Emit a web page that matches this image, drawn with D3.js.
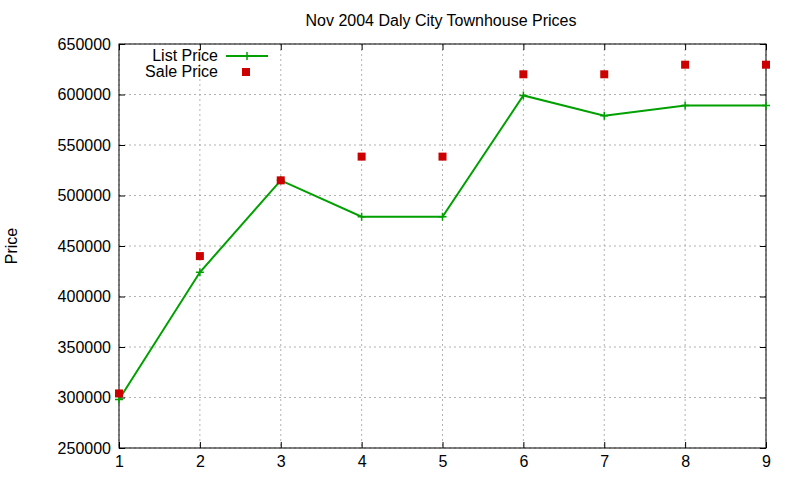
<!DOCTYPE html>
<html><head><meta charset="utf-8">
<script src="https://cdn.jsdelivr.net/npm/d3@7"></script>
<style>body{margin:0;background:#fff}svg{font-family:"Liberation Sans",Arial,sans-serif}</style>
</head><body><svg width="800" height="480"></svg>
<script>
const xs=[1,2,3,4,5,6,7,8,9];
const listPrice=[298000,424000,515000,479000,479000,599000,579000,589000,589000];
const salePrice=[304000,440000,515000,538500,538500,620000,620000,629500,629500];
const yTicks=[250000,300000,350000,400000,450000,500000,550000,600000,650000];
const svg=d3.select("svg");
const L=119,R=766,T=44,B=448;
const x=d3.scaleLinear().domain([1,9]).range([L,R]);
const y=d3.scaleLinear().domain([250000,650000]).range([B,T]);
const g=svg.append("g");
g.selectAll(".gx").data(xs).join("line").attr("x1",d=>x(d)).attr("x2",d=>x(d)).attr("y1",T).attr("y2",B)
 .attr("stroke","#a0a0a0").attr("stroke-dasharray","2,3").attr("stroke-width",0.8);
g.selectAll(".gy").data(yTicks).join("line").attr("x1",L).attr("x2",R).attr("y1",d=>y(d)).attr("y2",d=>y(d))
 .attr("stroke","#a0a0a0").attr("stroke-dasharray","2,3").attr("stroke-width",0.8);
svg.append("g").attr("transform",`translate(0,${B})`).call(d3.axisBottom(x).tickValues(xs).tickFormat(d3.format("d")).tickSizeInner(-6).tickSizeOuter(0).tickPadding(8));
svg.append("g").attr("transform",`translate(${L},0)`).call(d3.axisLeft(y).tickValues(yTicks).tickFormat(d3.format("d")).tickSizeInner(-6).tickSizeOuter(0).tickPadding(8));
svg.append("g").attr("transform",`translate(0,${T})`).call(d3.axisTop(x).tickValues(xs).tickFormat("").tickSizeInner(-6).tickSizeOuter(0));
svg.append("g").attr("transform",`translate(${R},0)`).call(d3.axisRight(y).tickValues(yTicks).tickFormat("").tickSizeInner(-6).tickSizeOuter(0));
svg.selectAll(".tick text").attr("font-size",16).attr("fill","#000");
svg.selectAll(".domain").remove();
svg.append("rect").attr("x",L).attr("y",T).attr("width",R-L).attr("height",B-T).attr("fill","none").attr("stroke","#000");
const line=d3.line().x((d,i)=>x(xs[i])).y(d=>y(d));
svg.append("path").datum(listPrice).attr("d",line).attr("fill","none").attr("stroke","#00a000").attr("stroke-width",2);
const plus=(sel)=>sel.append("path").attr("d","M-4,0H4M0,-4V4").attr("stroke","#00a000").attr("stroke-width",1.5);
svg.selectAll(".lp").data(listPrice).join("g").attr("transform",(d,i)=>`translate(${x(xs[i])},${y(d)})`).call(plus);
svg.selectAll(".sp").data(salePrice).join("rect").attr("x",(d,i)=>x(xs[i])-4).attr("y",d=>y(d)-4).attr("width",8).attr("height",8).attr("fill","#cc0000");
svg.append("text").attr("x",218).attr("y",61).attr("text-anchor","end").attr("font-size",16).text("List Price");
svg.append("line").attr("x1",226).attr("x2",268).attr("y1",56).attr("y2",56).attr("stroke","#00a000").attr("stroke-width",2);
svg.append("g").attr("transform","translate(247,56)").call(plus);
svg.append("text").attr("x",218).attr("y",77).attr("text-anchor","end").attr("font-size",16).text("Sale Price");
svg.append("rect").attr("x",242).attr("y",68).attr("width",8).attr("height",8).attr("fill","#cc0000");
svg.append("text").attr("x",441).attr("y",26).attr("text-anchor","middle").attr("font-size",16).text("Nov 2004 Daly City Townhouse Prices");
svg.append("text").attr("transform","translate(17,246) rotate(-90)").attr("text-anchor","middle").attr("font-size",16).text("Price");
</script></body></html>
